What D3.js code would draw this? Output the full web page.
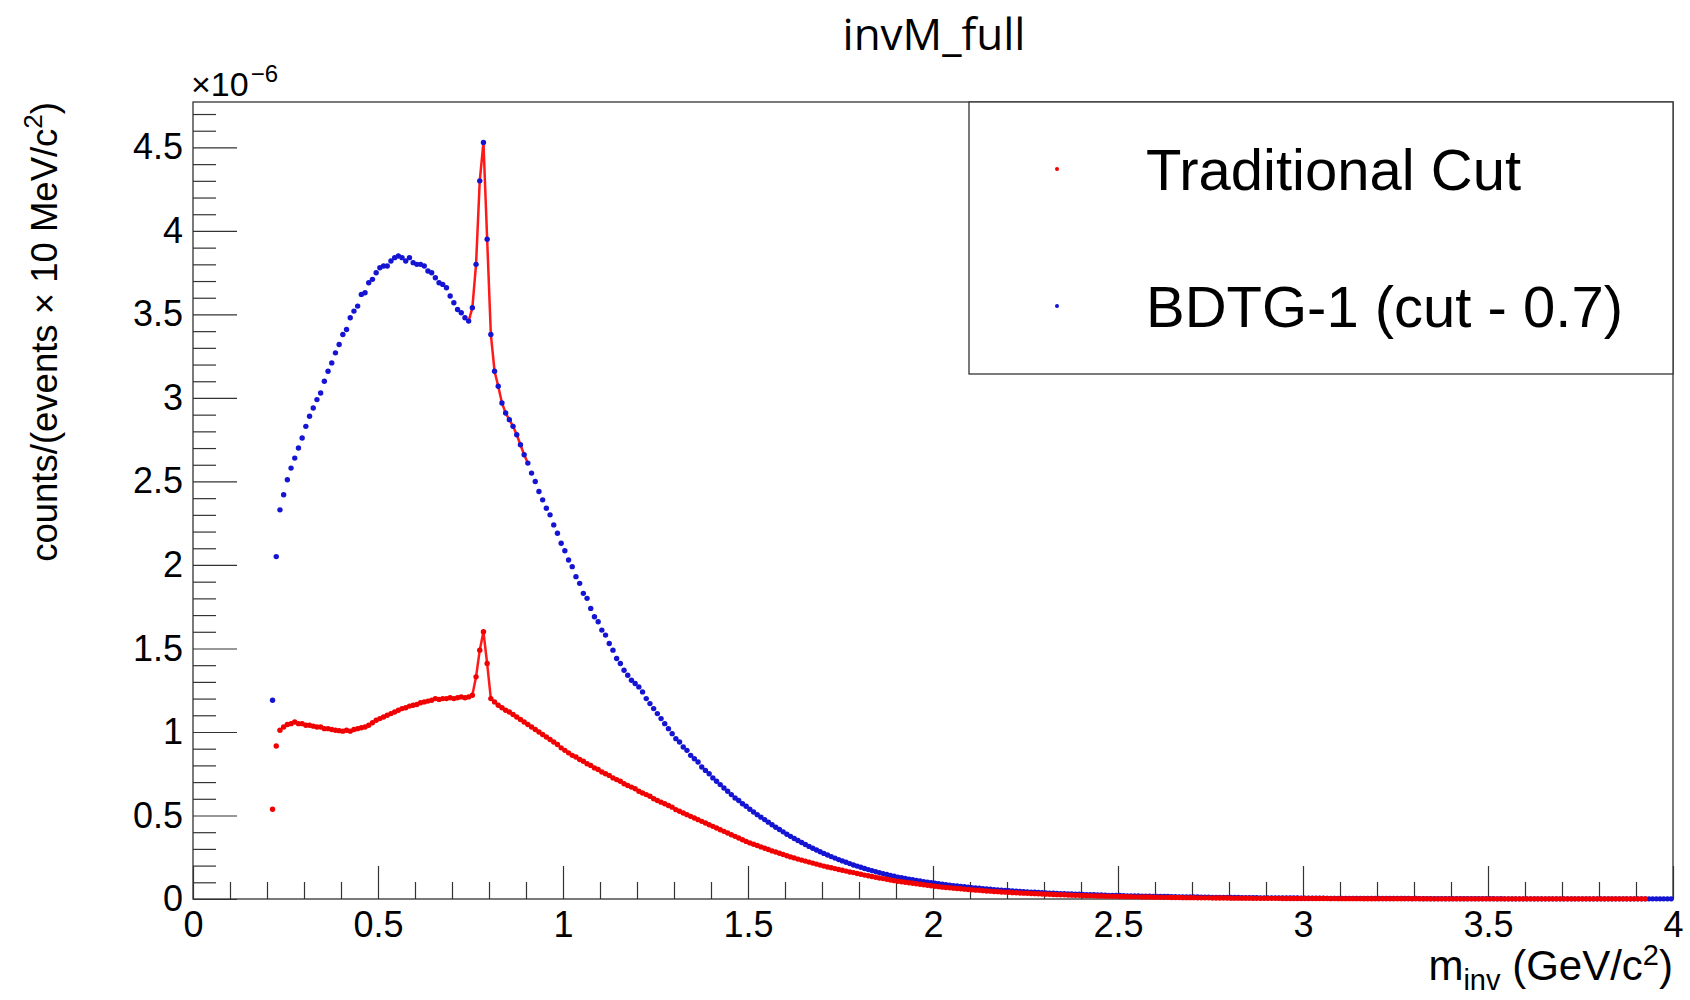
<!DOCTYPE html>
<html>
<head>
<meta charset="utf-8">
<script src="https://cdn.jsdelivr.net/npm/d3@7"></script>
<style>
  html, body { margin: 0; padding: 0; background: #fff; }
  svg { display: block; }
</style>
</head>
<body>
<svg id="chart" width="1690" height="1000"></svg>
<script>
// ---------------- DATA ----------------
const chartTitle = "invM_full";
const seriesNames = ["Traditional Cut", "BDTG-1 (cut - 0.7)"];
// histogram binning (GeV/c^2): first filled bin starts at 0.21, width 10 MeV
const firstBinLow = 0.21;
const binWidth = 0.01;
const xDomain = [0, 4];
const yDomain = [0, 4.772];           // in units of 1e-6
const xMajorTicks = [0, 0.5, 1, 1.5, 2, 2.5, 3, 3.5, 4];
const yMajorTicks = [0, 0.5, 1, 1.5, 2, 2.5, 3, 3.5, 4, 4.5];
const fitRange = [0.74, 0.91];        // range of the red fit curve

// BDTG-1 (cut - 0.7), per 10 MeV bin, x1e-6
const bdtgValues = [
  1.19, 2.05, 2.33, 2.42, 2.51, 2.58, 2.64, 2.70, 2.76,
  2.83, 2.89, 2.94, 2.99, 3.03, 3.10, 3.16, 3.21, 3.27, 3.32,
  3.38, 3.41, 3.48, 3.52, 3.55, 3.62, 3.63, 3.69, 3.71, 3.75,
  3.78, 3.79, 3.79, 3.82, 3.84, 3.85, 3.84, 3.82, 3.84, 3.81,
  3.80, 3.80, 3.79, 3.76, 3.75, 3.72, 3.69, 3.68, 3.66, 3.61,
  3.57, 3.53, 3.51, 3.48, 3.46, 3.54, 3.80, 4.30, 4.53, 3.95,
  3.38, 3.16, 3.07, 2.97, 2.91, 2.87, 2.83, 2.78, 2.72, 2.66,
  2.61, 2.55, 2.50, 2.44, 2.39, 2.34, 2.30, 2.24, 2.19, 2.13,
  2.085, 2.03, 1.99, 1.93, 1.89, 1.83, 1.80, 1.74, 1.69, 1.66,
  1.61, 1.58, 1.53, 1.49, 1.44, 1.41, 1.37, 1.34, 1.31, 1.29,
  1.27, 1.24, 1.20, 1.17, 1.14, 1.11, 1.08, 1.05, 1.02, 0.99,
  0.96, 0.94, 0.91, 0.89, 0.86, 0.84, 0.82, 0.79, 0.77, 0.75,
  0.725, 0.705, 0.685, 0.665, 0.645, 0.625, 0.605, 0.59, 0.57, 0.555,
  0.537, 0.521, 0.505, 0.49, 0.475, 0.46, 0.445, 0.43, 0.416, 0.402,
  0.388, 0.375, 0.362, 0.35, 0.338, 0.326, 0.315, 0.304, 0.293, 0.283,
  0.273, 0.263, 0.254, 0.245, 0.236, 0.228, 0.22, 0.212, 0.204, 0.197,
  0.19, 0.183, 0.176, 0.17, 0.164, 0.158, 0.152, 0.147, 0.141, 0.136,
  0.131, 0.127, 0.123, 0.119, 0.115, 0.111, 0.108, 0.104, 0.101, 0.098,
  0.095, 0.092, 0.089, 0.086, 0.083, 0.080, 0.078, 0.075, 0.073, 0.070,
  0.068, 0.066, 0.064, 0.062, 0.060, 0.058, 0.056, 0.054, 0.053, 0.051,
  0.049, 0.048, 0.046, 0.045, 0.044, 0.042, 0.041, 0.040, 0.039, 0.037,
  0.036, 0.035, 0.034, 0.033, 0.032, 0.031, 0.030, 0.030, 0.029, 0.028,
  0.027, 0.026, 0.026, 0.025, 0.024, 0.024, 0.023, 0.022, 0.022, 0.021,
  0.021, 0.020, 0.019, 0.019, 0.018, 0.018, 0.017, 0.017, 0.017, 0.016,
  0.016, 0.015, 0.015, 0.015, 0.014, 0.014, 0.013, 0.013, 0.013, 0.012,
  0.012, 0.012, 0.011, 0.011, 0.011, 0.010, 0.010, 0.010, 0.010, 0.009,
  0.009, 0.009, 0.009, 0.008, 0.008, 0.008, 0.008, 0.008, 0.007, 0.007,
  0.007, 0.007, 0.007, 0.006, 0.006, 0.006, 0.006, 0.006, 0.006, 0.005,
  0.005, 0.005, 0.005, 0.005, 0.005, 0.005, 0.004, 0.004, 0.004, 0.004,
  0.004, 0.004, 0.004, 0.004, 0.004, 0.004, 0.003, 0.003, 0.003, 0.003,
  0.003, 0.003, 0.003, 0.003, 0.003, 0.003, 0.003, 0.003, 0.003, 0.002,
  0.003, 0.002, 0.002, 0.002, 0.002, 0.002, 0.002, 0.002, 0.002, 0.002,
  0.002, 0.002, 0.002, 0.002, 0.002, 0.002, 0.002, 0.002, 0.002, 0.002,
  0.002, 0.002, 0.001, 0.002, 0.001, 0.001, 0.001, 0.001, 0.001, 0.001,
  0.001, 0.001, 0.001, 0.001, 0.001, 0.001, 0.001, 0.001, 0.001, 0.001,
  0.001, 0.001, 0.001, 0.001, 0.001, 0.001, 0.001, 0.001, 0.001, 0.001,
  0.001, 0.001, 0.001, 0.001, 0.001, 0.001, 0.001, 0.001, 0.001, 0.001,
  0.001, 0.001, 0.001, 0.001, 0.001, 0.001, 0.001, 0.001, 0.001, 0.001
];

// Traditional Cut, per 10 MeV bin, x1e-6
const tradValues = [
  0.537, 0.916, 1.01, 1.03, 1.045, 1.05, 1.06, 1.05, 1.05,
  1.04, 1.04, 1.035, 1.03, 1.03, 1.02, 1.02, 1.015, 1.01, 1.008,
  1.005, 1.01, 1.005, 1.015, 1.02, 1.025, 1.03, 1.04, 1.055, 1.07,
  1.08, 1.09, 1.10, 1.11, 1.12, 1.13, 1.14, 1.145, 1.155, 1.16,
  1.165, 1.175, 1.18, 1.185, 1.19, 1.20, 1.195, 1.20, 1.20, 1.205,
  1.20, 1.205, 1.21, 1.205, 1.21, 1.22, 1.33, 1.49, 1.60, 1.41,
  1.20, 1.18, 1.16, 1.145, 1.13, 1.12, 1.105, 1.09, 1.075, 1.06,
  1.045, 1.03, 1.015, 1.0, 0.985, 0.97, 0.955, 0.94, 0.925, 0.905,
  0.89, 0.875, 0.86, 0.85, 0.835, 0.825, 0.81, 0.80, 0.785, 0.775,
  0.76, 0.75, 0.74, 0.725, 0.715, 0.705, 0.69, 0.68, 0.67, 0.66,
  0.645, 0.635, 0.625, 0.615, 0.60, 0.59, 0.58, 0.57, 0.56, 0.55,
  0.535, 0.525, 0.515, 0.505, 0.495, 0.485, 0.475, 0.465, 0.455, 0.445,
  0.435, 0.425, 0.415, 0.405, 0.395, 0.385, 0.375, 0.365, 0.355, 0.345,
  0.336, 0.328, 0.32, 0.312, 0.304, 0.296, 0.288, 0.281, 0.274, 0.267,
  0.259, 0.252, 0.246, 0.239, 0.233, 0.227, 0.221, 0.215, 0.209, 0.203,
  0.197, 0.192, 0.187, 0.182, 0.177, 0.172, 0.167, 0.162, 0.158, 0.153,
  0.148, 0.143, 0.139, 0.135, 0.130, 0.126, 0.122, 0.118, 0.114, 0.110,
  0.106, 0.103, 0.100, 0.097, 0.094, 0.091, 0.088, 0.085, 0.082, 0.079,
  0.076, 0.074, 0.071, 0.069, 0.067, 0.065, 0.063, 0.061, 0.059, 0.057,
  0.055, 0.053, 0.052, 0.050, 0.048, 0.047, 0.045, 0.044, 0.042, 0.041,
  0.040, 0.038, 0.037, 0.036, 0.035, 0.034, 0.033, 0.032, 0.031, 0.030,
  0.029, 0.028, 0.027, 0.026, 0.025, 0.025, 0.024, 0.023, 0.022, 0.022,
  0.021, 0.020, 0.020, 0.019, 0.018, 0.018, 0.017, 0.017, 0.016, 0.016,
  0.015, 0.015, 0.014, 0.014, 0.013, 0.013, 0.012, 0.012, 0.012, 0.011,
  0.011, 0.010, 0.010, 0.010, 0.009, 0.009, 0.009, 0.008, 0.008, 0.008,
  0.008, 0.007, 0.007, 0.007, 0.007, 0.006, 0.006, 0.006, 0.006, 0.006,
  0.005, 0.005, 0.005, 0.005, 0.005, 0.005, 0.004, 0.004, 0.004, 0.004,
  0.004, 0.004, 0.004, 0.004, 0.003, 0.003, 0.003, 0.003, 0.003, 0.003,
  0.003, 0.003, 0.003, 0.003, 0.003, 0.003, 0.003, 0.002, 0.003, 0.002,
  0.002, 0.002, 0.002, 0.002, 0.002, 0.002, 0.002, 0.002, 0.002, 0.002,
  0.002, 0.002, 0.002, 0.002, 0.002, 0.002, 0.002, 0.002, 0.002, 0.002,
  0.002, 0.002, 0.001, 0.002, 0.001, 0.001, 0.001, 0.001, 0.001, 0.001,
  0.001, 0.001, 0.001, 0.001, 0.001, 0.001, 0.001, 0.001, 0.001, 0.001,
  0.001, 0.001, 0.001, 0.001, 0.001, 0.001, 0.001, 0.001, 0.001, 0.001,
  0.001, 0.001, 0.001, 0.001, 0.001, 0.001, 0.001, 0.001, 0.001, 0.001,
  0.001, 0.001, 0.001, 0.001, 0.001, 0.001, 0.001, 0.001, 0.001, 0.001,
  0.001, 0.001, 0.001, 0.001, 0.001, 0.001, 0.001, 0.001, 0.001, 0.001,
  0.001, 0.001, 0.001, null, null, null, null, null, null, null
];

// ---------------- DRAWING ----------------
const F = { l: 193, t: 102, r: 1673, b: 899 };
const FONT = '"Liberation Sans", Arial, Helvetica, sans-serif';
const RED = "#f00000", BLUE = "#1414d2", AXIS = "#333";

const x = d3.scaleLinear().domain(xDomain).range([F.l, F.r]);
const y = d3.scaleLinear().domain(yDomain).range([F.b, F.t]);
const binCenter = i => firstBinLow + (i + 0.5) * binWidth;

const toPoints = vals => vals.map((v, i) => ({ x: binCenter(i), v })).filter(d => d.v != null);
const bdtg = toPoints(bdtgValues);
const trad = toPoints(tradValues);

const svg = d3.select("#chart");
svg.append("rect").attr("width", 1690).attr("height", 1000).attr("fill", "#fff");

// minor tick positions derived from the major tick spacing
const yMinorTicks = d3.range(0, yDomain[1], 0.1).filter(v => Math.abs(v / 0.5 - Math.round(v / 0.5)) > 1e-6);
const xMinorTicks = d3.range(0, xDomain[1], 0.1).filter(v => Math.abs(v / 0.5 - Math.round(v / 0.5)) > 1e-6);

function styleAxis(g, size) {
  g.select(".domain").remove();
  g.selectAll(".tick line").attr("stroke", AXIS).attr("stroke-width", 1.2);
  g.selectAll(".tick text").attr("fill", "#000").attr("font-size", size).attr("font-family", FONT);
  g.attr("font-family", FONT);
}

// Y axis
svg.append("g").attr("transform", `translate(${F.l},0)`)
  .call(d3.axisLeft(y).tickValues(yMinorTicks).tickSize(-23).tickFormat(""))
  .call(g => styleAxis(g, 36));
svg.append("g").attr("transform", `translate(${F.l},0)`)
  .call(d3.axisLeft(y).tickValues(yMajorTicks).tickSize(-44).tickPadding(10).tickFormat(d3.format("~g")))
  .call(g => styleAxis(g, 36));

// X axis
svg.append("g").attr("transform", `translate(0,${F.b})`)
  .call(d3.axisBottom(x).tickValues(xMinorTicks).tickSize(-17).tickFormat(""))
  .call(g => styleAxis(g, 36));
svg.append("g").attr("transform", `translate(0,${F.b})`)
  .call(d3.axisBottom(x).tickValues(xMajorTicks).tickSize(-33).tickPadding(12).tickFormat(d3.format("~g")))
  .call(g => styleAxis(g, 36));

// frame
svg.append("rect").attr("x", F.l).attr("y", F.t).attr("width", F.r - F.l).attr("height", F.b - F.t)
  .attr("fill", "none").attr("stroke", AXIS).attr("stroke-width", 1.3);

// fit curves (drawn under the markers)
const line = d3.line().x(d => x(d.x)).y(d => y(d.v));
[bdtg, trad].forEach(s => {
  svg.append("path")
    .datum(s.filter(d => d.x >= fitRange[0] && d.x <= fitRange[1]))
    .attr("d", line).attr("fill", "none").attr("stroke", "#ff1a1a").attr("stroke-width", 2.5);
});

// markers
svg.append("g").selectAll("circle").data(bdtg).join("circle")
  .attr("cx", d => x(d.x)).attr("cy", d => y(d.v)).attr("r", 2.7).attr("fill", BLUE);
svg.append("g").selectAll("circle").data(trad).join("circle")
  .attr("cx", d => x(d.x)).attr("cy", d => y(d.v)).attr("r", 2.7).attr("fill", RED);

// exponent label
const ex = svg.append("text").attr("x", F.l - 2).attr("y", 96).attr("font-family", FONT).attr("font-size", 34).attr("fill", "#000");
ex.append("tspan").text("\u00d710");
ex.append("tspan").attr("font-size", 24).attr("dy", -14).attr("dx", 2).text("\u22126");

// title
svg.append("text").attr("x", 934).attr("y", 50).attr("text-anchor", "middle")
  .attr("font-family", '"Open Sans", "Noto Sans", sans-serif').attr("font-size", 44).attr("fill", "#000")
  .text(chartTitle);

// x title
const xt = svg.append("text").attr("x", F.r).attr("y", 980).attr("text-anchor", "end")
  .attr("font-family", FONT).attr("font-size", 42).attr("fill", "#000");
xt.append("tspan").text("m");
xt.append("tspan").attr("font-size", 29).attr("dy", 10).text("inv");
xt.append("tspan").attr("dy", -10).text(" (GeV/c");
xt.append("tspan").attr("font-size", 29).attr("dy", -15).text("2");
xt.append("tspan").attr("dy", 15).text(")");

// y title
const yt = svg.append("text").attr("transform", `translate(57,${F.t}) rotate(-90)`).attr("text-anchor", "end")
  .attr("font-family", FONT).attr("font-size", 36.5).attr("fill", "#000");
yt.append("tspan").text("counts/(events \u00d7 10 MeV/c");
yt.append("tspan").attr("font-size", 26).attr("dy", -15).text("2");
yt.append("tspan").attr("dy", 15).text(")");

// legend
const L = { x: 969, y: 102, w: 704, h: 272 };
const lg = svg.append("g");
lg.append("rect").attr("x", L.x).attr("y", L.y).attr("width", L.w).attr("height", L.h)
  .attr("fill", "#fff").attr("stroke", AXIS).attr("stroke-width", 1.3);
const legendItems = [
  { name: seriesNames[0], color: RED, cy: 169 },
  { name: seriesNames[1], color: BLUE, cy: 306 }
];
legendItems.forEach(it => {
  lg.append("circle").attr("cx", 1057).attr("cy", it.cy).attr("r", 2).attr("fill", it.color);
  lg.append("text").attr("x", 1146).attr("y", it.cy + 21).attr("font-family", FONT)
    .attr("font-size", 58).attr("fill", "#000").text(it.name);
});
</script>
</body>
</html>
